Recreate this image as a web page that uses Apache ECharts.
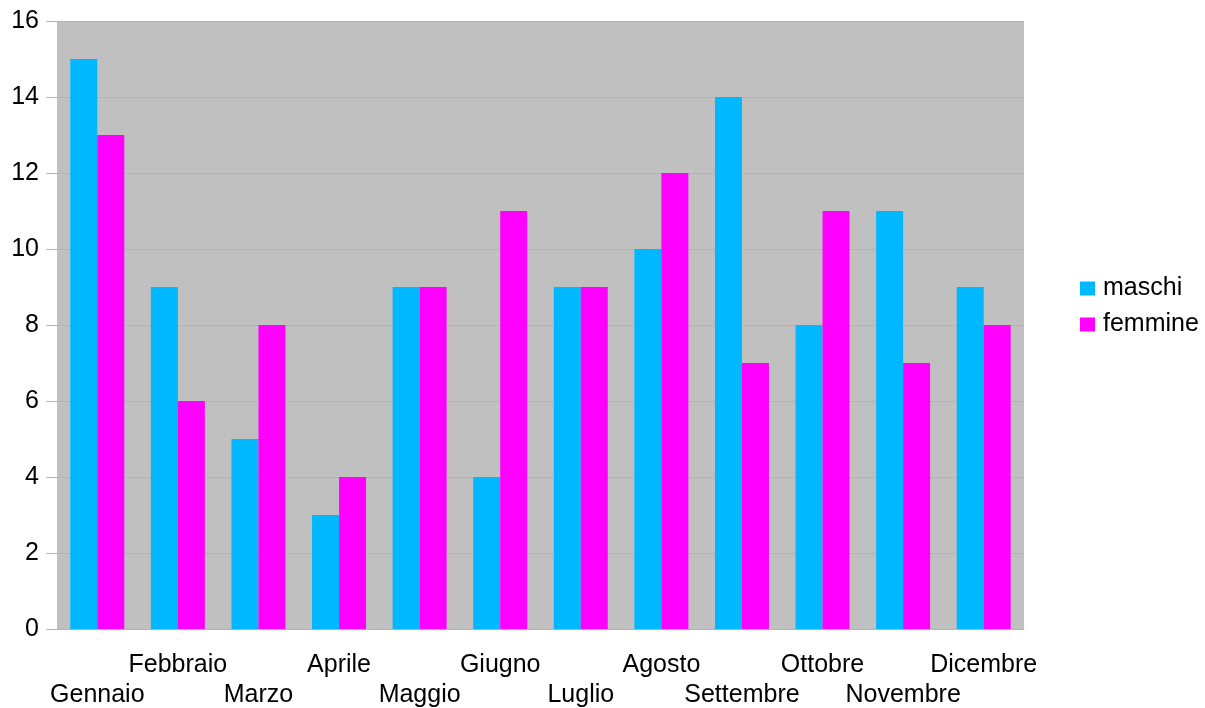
<!DOCTYPE html>
<html><head><meta charset="utf-8">
<script src="https://cdn.jsdelivr.net/npm/echarts@6/dist/echarts.min.js"></script>
<style>html,body{margin:0;padding:0;background:#fff}#c{width:1205px;height:708px}</style>
</head><body><div id="c"></div>
<script>
const months = ['Gennaio','Febbraio','Marzo','Aprile','Maggio','Giugno','Luglio','Agosto','Settembre','Ottobre','Novembre','Dicembre'];
const maschi = [15, 9, 5, 3, 9, 4, 9, 10, 14, 8, 11, 9];
const femmine = [13, 6, 8, 4, 9, 11, 9, 12, 7, 11, 7, 8];
const yTicks = {min: 0, max: 16, interval: 2};

const chart = echarts.init(document.getElementById('c'), null, {renderer: 'canvas'});
const font = 'Liberation Sans';
chart.setOption({
  animation: false,
  textStyle: {fontFamily: font},
  grid: {left: 57, right: 181, top: 21, bottom: 79, show: true, backgroundColor: '#c0c0c0', borderWidth: 0, outerBoundsMode: 'none', containLabel: false},
  legend: {
    orient: 'vertical', left: 1075, top: 271,
    itemWidth: 15, itemHeight: 14, itemGap: 11, icon: 'rect',
    textStyle: {fontSize: 25, lineHeight: 25, color: '#000', fontFamily: font, padding: [0, 0, 0, 3]},
    data: ['maschi', 'femmine']
  },
  xAxis: {
    type: 'category', data: months,
    axisLine: {lineStyle: {color: '#b3b3b3', width: 1}},
    axisTick: {length: 10, lineStyle: {color: '#b3b3b3'}},
    axisLabel: {
      interval: 0, fontSize: 25, color: '#000', margin: 21, lineHeight: 30, fontFamily: font,
      formatter: (v, i) => (i % 2 === 0 ? '\n' + v : v)
    }
  },
  yAxis: {
    type: 'value', min: yTicks.min, max: yTicks.max, interval: yTicks.interval,
    axisLine: {show: false},
    axisTick: {show: true, length: 11, lineStyle: {color: '#b3b3b3'}},
    splitLine: {lineStyle: {color: '#b3b3b3', width: 1}},
    axisLabel: {fontSize: 25, color: '#000', margin: 18, fontFamily: font}
  },
  series: [
    {name: 'maschi', type: 'bar', data: maschi, itemStyle: {color: '#00b8ff'}, barGap: '0%', barCategoryGap: '33%'},
    {name: 'femmine', type: 'bar', data: femmine, itemStyle: {color: '#ff00ff'}, barGap: '0%', barCategoryGap: '33%'}
  ]
});
</script></body></html>
